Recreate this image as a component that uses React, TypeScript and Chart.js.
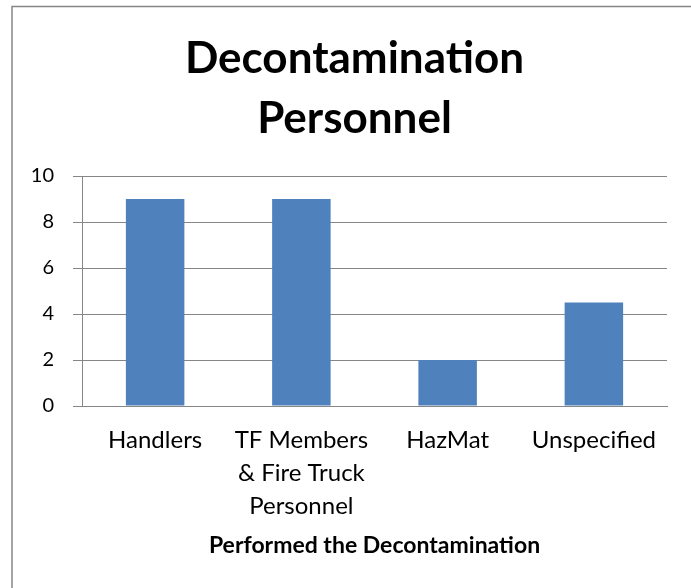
import React, { useEffect, useRef } from "react";
import { Chart, registerables } from "chart.js";

Chart.register(...registerables);

const categories: (string | string[])[] = [
  "Handlers",
  ["TF Members", "& Fire Truck", "Personnel"],
  "HazMat",
  "Unspecified",
];
const values = [9, 9, 2, 4.5];
const titleLines = ["Decontamination", "Personnel"];
const xAxisTitle = "Performed the Decontamination";
const yMin = 0;
const yMax = 10;
const yStep = 2;

const FONT = "Lato, 'Noto Sans', sans-serif";
const GRID = "#868686";

const frame = {
  id: "frame",
  beforeDraw(chart: any) {
    const ctx = chart.ctx;
    ctx.save();
    ctx.fillStyle = "#ffffff";
    ctx.fillRect(0, 0, chart.width, chart.height);
    ctx.strokeStyle = GRID;
    ctx.lineWidth = 1.5;
    ctx.beginPath();
    ctx.moveTo(12, chart.height + 2);
    ctx.lineTo(12, 6.5);
    ctx.lineTo(chart.width + 20, 6.5);
    ctx.stroke();
    ctx.restore();
  },
};

export default function App() {
  const ref = useRef<HTMLCanvasElement | null>(null);
  useEffect(() => {
    if (!ref.current) return;
    const chart = new Chart(ref.current, {
      type: "bar",
      data: {
        labels: categories,
        datasets: [
          {
            data: values,
            backgroundColor: "#4F81BD",
            borderWidth: 0,
            categoryPercentage: 1,
            barPercentage: 0.4,
          },
        ],
      },
      options: {
        responsive: false,
        animation: false,
        devicePixelRatio: 1,
        layout: { padding: { left: 0, right: 0, top: 0, bottom: 0 } },
        plugins: {
          legend: { display: false },
          tooltip: { enabled: false },
          title: {
            display: true,
            text: titleLines,
            color: "#000000",
            font: { family: FONT, size: 44, weight: "bold", lineHeight: 60 / 44 },
            padding: { top: 29, bottom: 27 },
          },
        },
        scales: {
          x: {
            grid: { display: false },
            border: { display: true, color: GRID, width: 1 },
            ticks: {
              color: "#000000",
              maxRotation: 0,
              autoSkip: false,
              padding: 10,
              font: { family: FONT, size: 24, lineHeight: 33 / 24 },
            },
            title: {
              display: true,
              text: xAxisTitle,
              color: "#000000",
              font: { family: FONT, size: 23, weight: "bold", lineHeight: 1.2 },
              padding: { top: 0, bottom: 29 },
            },
            afterFit(scale: any) {
              scale.height = 182;
            },
          },
          y: {
            min: yMin,
            max: yMax,
            grid: { color: GRID, lineWidth: 1, tickLength: 9 },
            border: { display: true, color: GRID, width: 1 },
            ticks: {
              stepSize: yStep,
              color: "#000000",
              padding: 19,
              font: { family: FONT, size: 20 },
            },
            afterFit(scale: any) {
              scale.width = 82;
            },
          },
          yRight: {
            position: "right",
            display: true,
            grid: { display: false, drawOnChartArea: false },
            border: { display: false },
            ticks: { display: false },
            afterFit(scale: any) {
              scale.width = 42;
            },
          },
        },
      },
      plugins: [frame],
    });
    return () => chart.destroy();
  }, []);
  return (
    <div
      style={{
        position: "fixed",
        left: 0,
        top: 0,
        width: 691,
        height: 588,
        overflow: "hidden",
        background: "#fff",
      }}
    >
      <canvas ref={ref} width={709} height={588} style={{ display: "block" }} />
    </div>
  );
}
